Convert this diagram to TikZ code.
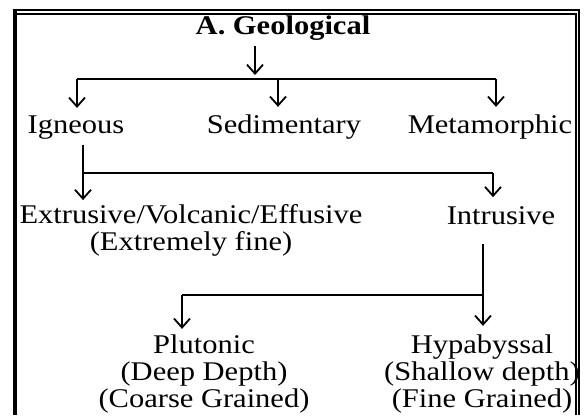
\documentclass[tikz,border=0pt]{standalone}
\usepackage{fontspec}
\setmainfont{Liberation Serif}[FakeStretch=1.13]
\usetikzlibrary{arrows.meta}

\begin{document}
\begin{tikzpicture}[
    x=1pt, y=-1pt,
    >={Straight Barb[length=9pt,width=16pt]},
    line width=1.8pt,
    every node/.style={font=\fontsize{27}{27}\selectfont, inner sep=0pt},
    head/.style={font=\fontsize{27}{27}\selectfont\bfseries}
  ]
  \useasboundingbox (0,0) rectangle (585,415);

  % Frame
  \fill (12.7,9.3) rectangle (16.7,415);
  \draw[line width=2pt] (12.7,10.3) -- (579,10.3) -- (579,415);
  \draw[line width=2pt] (16.7,14.3) -- (575.5,14.3) -- (575.5,415);

  % Top level
  \node[head, anchor=base] (geo) at (283,34) {A. Geological};
  \node[anchor=base] (ign) at (76,133) {Igneous};
  \node[anchor=base] (sed) at (284,133) {Sedimentary};
  \node[anchor=base] (met) at (490,133) {Metamorphic};

  % Igneous
  \node[anchor=base, align=center] (ext) at (191,250) {Extrusive/Volcanic/Effusive\\(Extremely fine)};
  \node[anchor=base] (int) at (501,224) {Intrusive};

  % Intrusive
  \node[anchor=base, align=center] (plu) at (204,407) {Plutonic\\(Deep Depth)\\(Coarse Grained)};
  \node[anchor=base, align=center] (hyp) at (482,407) {Hypabyssal\\(Shallow depth)\\(Fine Grained)};

  % Junctions
  \coordinate (j1) at (255,79);
  \coordinate (jign) at (77,79);
  \coordinate (jsed) at (278,79);
  \coordinate (jmet) at (496,79);
  \coordinate (k1) at (83,173);
  \coordinate (k2) at (493,173);
  \coordinate (k3) at (483,295);
  \coordinate (k4) at (182,295);

  % Arrows
  \draw[->, shorten <=5pt, shorten >=4pt] (geo.south -| j1) -- (j1);
  \draw (jign) -- (jmet);
  \draw[->, shorten >=6.5pt] (jign) -- (jign |- ign.north);
  \draw[->, shorten >=6.5pt] (jsed) -- (jsed |- sed.north);
  \draw[->, shorten >=6.5pt] (jmet) -- (jmet |- met.north);

  \draw[->, shorten <=5pt, shorten >=3pt] (ign.south -| k1) -- (k1 |- ext.north);
  \draw (k1) -- (k2);
  \draw[->, shorten >=8pt] (k2) -- (k2 |- int.north);

  \draw[->, shorten <=19pt, shorten >=7.5pt] (int.south -| k3) -- (k3 |- hyp.north);
  \draw (k3) -- (k4);
  \draw[->, shorten >=4.5pt] (k4) -- (k4 |- plu.north);
\end{tikzpicture}
\end{document}
